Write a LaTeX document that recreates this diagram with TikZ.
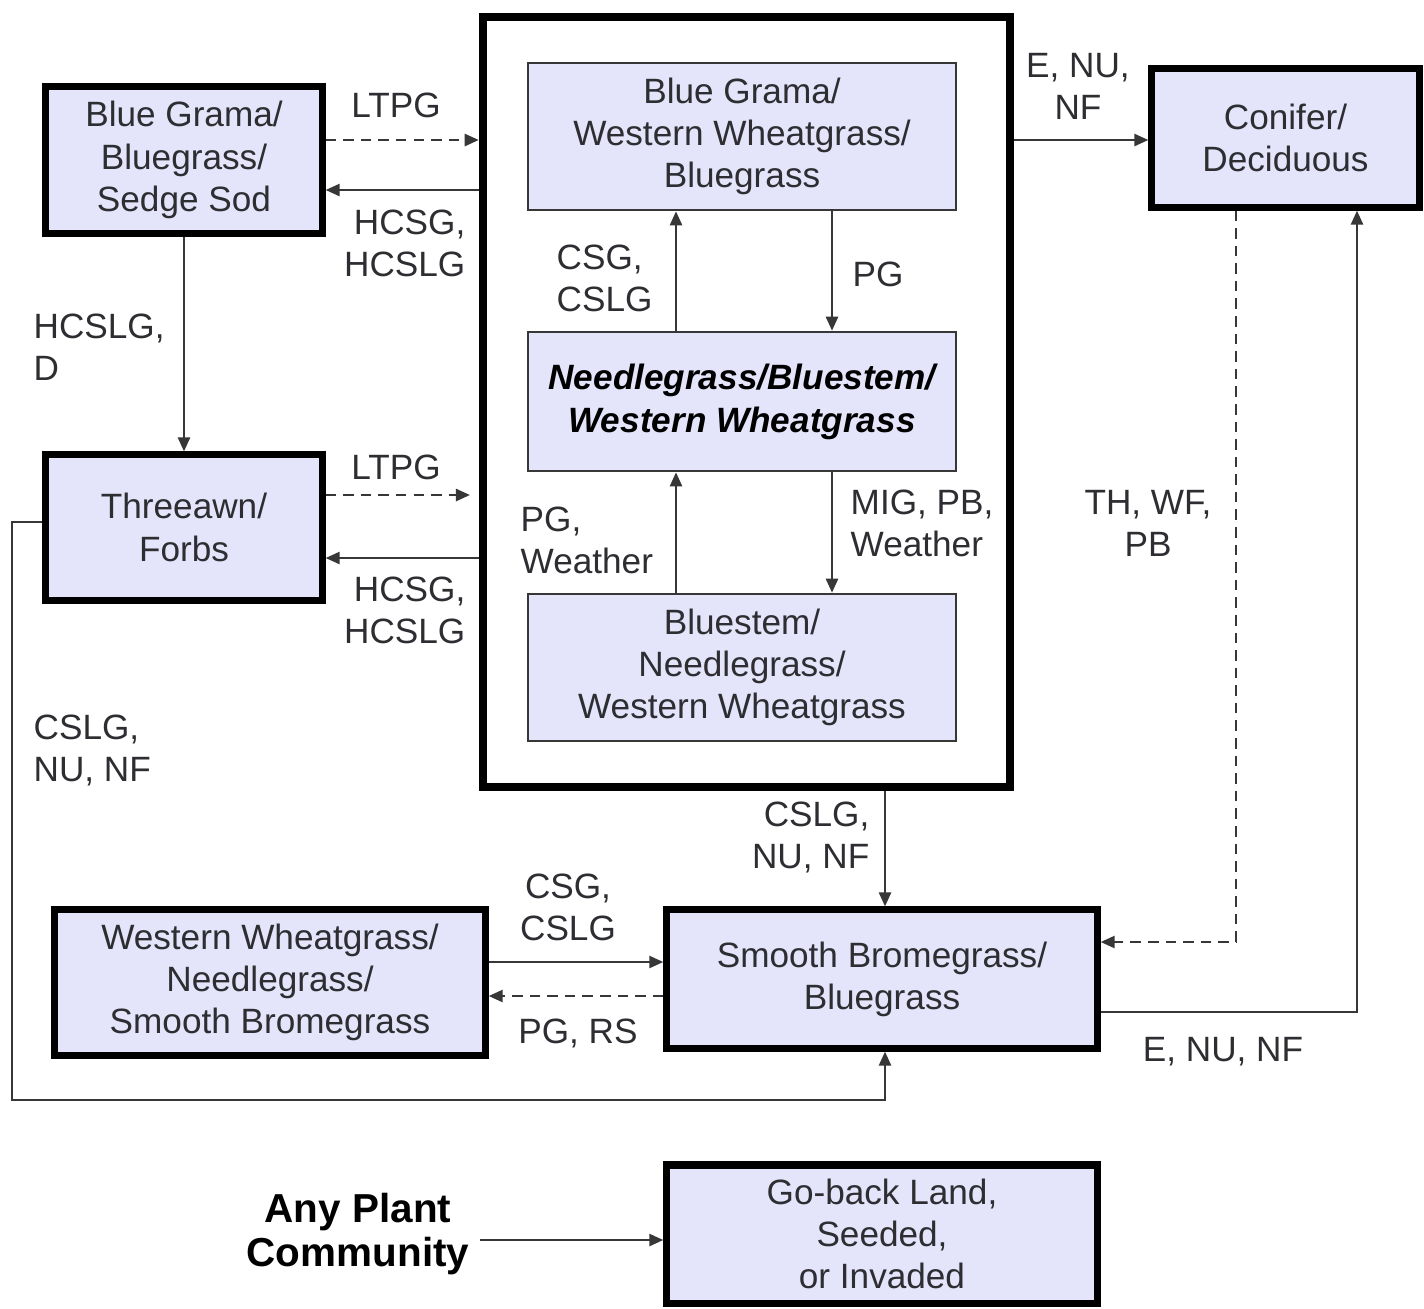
\documentclass[tikz,border=0pt]{standalone}
\usepackage{fontspec}
\setmainfont{Liberation Sans}
\usetikzlibrary{arrows.meta}
\definecolor{boxfill}{RGB}{228,228,250}
\definecolor{txt}{RGB}{45,45,50}
\definecolor{ln}{RGB}{55,55,55}
\begin{document}
\begin{tikzpicture}[x=0.01cm,y=-0.01cm,
  every node/.style={font=\fontsize{10}{12}\selectfont, text=txt, inner sep=0pt},
  thickbox/.style={draw=black, line width=2pt, fill=boxfill, align=center},
  thinbox/.style={draw=ln, line width=0.7pt, fill=boxfill, align=center},
  conn/.style={draw=ln, line width=0.75pt},
  arr/.style={conn, -{Triangle[length=4pt,width=3.4pt]}},
  darr/.style={arr, dash pattern=on 3pt off 2pt},
  lbl/.style={align=left}]
\useasboundingbox (0,0) rectangle (1424,1308);
\fill[white] (0,0) rectangle (1424,1308);

% container
\node[draw=black, line width=2.3pt, minimum width=5.27cm, minimum height=7.70cm] (cont) at (746.5,402) {};
\node[thinbox, minimum width=4.28cm, minimum height=1.47cm] (bgw) at (742,136.5) {Blue Grama/\\Western Wheatgrass/\\Bluegrass};
\node[thinbox, minimum width=4.28cm, minimum height=1.39cm, font=\fontsize{10}{12.2}\selectfont\bfseries\itshape, text=black] (needle) at (742,401.5) {Needlegrass/Bluestem/\\Western Wheatgrass};
\node[thinbox, minimum width=4.28cm, minimum height=1.47cm] (blue) at (742,667.5) {Bluestem/\\Needlegrass/\\Western Wheatgrass};

% outer boxes
\node[thickbox, minimum width=2.76cm, minimum height=1.46cm] (sod) at (184,160) {Blue Grama/\\Bluegrass/\\Sedge Sod};
\node[thickbox, minimum width=2.76cm, minimum height=1.45cm] (three) at (184,527.5) {Threeawn/\\Forbs};
\node[thickbox, minimum width=2.67cm, minimum height=1.38cm] (conifer) at (1285.5,138) {Conifer/\\Deciduous};
\node[thickbox, minimum width=4.30cm, minimum height=1.38cm] (smooth) at (882,979) {Smooth Bromegrass/\\Bluegrass};
\node[thickbox, minimum width=4.30cm, minimum height=1.45cm] (ww) at (270,982.5) {Western Wheatgrass/\\Needlegrass/\\Smooth Bromegrass};
\node[thickbox, minimum width=4.30cm, minimum height=1.38cm] (goback) at (882,1234) {Go-back Land,\\Seeded,\\or Invaded};
\node[align=center, font=\fontsize{11.5}{12.5}\selectfont\bfseries, text=black] (any) at (358,1234) {Any Plant\\Community};

% connectors
\draw[darr] (sod.east |- 0,140) -- (cont.west |- 0,140);
\draw[arr] (cont.west |- 0,190) -- (sod.east |- 0,190);
\draw[arr] (sod.south) -- (three.north);
\draw[darr, shorten >=2.5pt] (three.east |- 0,495) -- (cont.west |- 0,495);
\draw[arr] (cont.west |- 0,558) -- (three.east |- 0,558);
\draw[arr] (three.west |- 0,522) -| (12,1100) -| (smooth.south -| 885,0);
\draw[arr] (cont.south -| 885,0) -- (smooth.north -| 885,0);
\draw[arr] (needle.north -| 676,0) -- (bgw.south -| 676,0);
\draw[arr] (bgw.south -| 832,0) -- (needle.north -| 832,0);
\draw[arr] (blue.north -| 676,0) -- (needle.south -| 676,0);
\draw[arr] (needle.south -| 832,0) -- (blue.north -| 832,0);
\draw[arr] (cont.east |- 0,140) -- (conifer.west |- 0,140);
\draw[darr] (conifer.south -| 1236,0) |- (smooth.east |- 0,942);
\draw[arr] (smooth.east |- 0,1012) -| (conifer.south -| 1357,0);
\draw[arr] (ww.east |- 0,962) -- (smooth.west |- 0,962);
\draw[darr] (smooth.west |- 0,996) -- (ww.east |- 0,996);
\draw[arr, shorten <=3pt] (any.east |- 0,1240) -- (goback.west |- 0,1240);

% labels
\node (l1) at (396,105) {LTPG};
\node[align=right, anchor=east] (l2) at (466,243.5) {HCSG,\\HCSLG};
\node[lbl, anchor=west] (l3) at (33,347.5) {HCSLG,\\D};
\node (l4) at (396,467) {LTPG};
\node[align=right, anchor=east] (l5) at (466,610) {HCSG,\\HCSLG};
\node[lbl, anchor=west] (l6) at (33,750.5) {CSLG,\\NU, NF};
\node[lbl, anchor=west] (l7) at (556,278) {CSG,\\CSLG};
\node[lbl, anchor=west] (l8) at (852,274) {PG};
\node[lbl, anchor=west] (l9) at (520,540) {PG,\\Weather};
\node[lbl, anchor=west] (l10) at (850,523) {MIG, PB,\\Weather};
\node[align=center] (l11) at (1078,86.5) {E, NU,\\NF};
\node[align=center] (l12) at (1148,523) {TH, WF,\\PB};
\node[align=right, anchor=east] (l13) at (870,837.5) {CSLG,\\NU, NF};
\node[align=center] (l14) at (568,907.5) {CSG,\\CSLG};
\node (l15) at (578,1033) {PG, RS};
\node (l16) at (1223,1052) {E, NU, NF};
\end{tikzpicture}
\end{document}
